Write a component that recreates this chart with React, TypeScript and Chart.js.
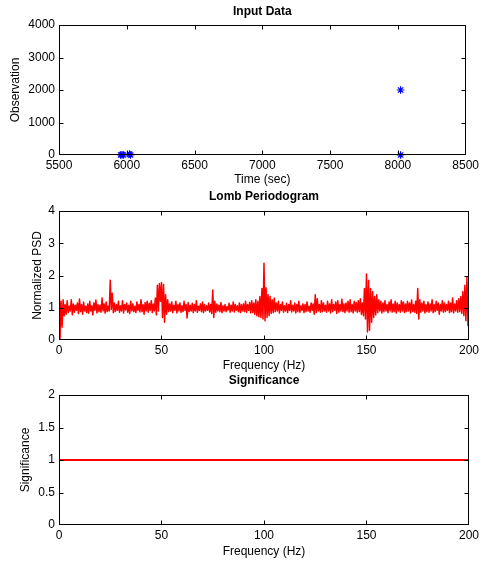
import React, { useEffect, useRef } from "react";
import { Chart, registerables } from "chart.js";

Chart.register(...registerables);

// ---------- DATA ----------
const INPUT_TIMES = [5955, 5965, 5975, 6020, 6028, 8020, 8020];
const INPUT_OBS = [0, 10, 0, 30, 0, 2000, 0];

const TIME_TICKS = [5500, 6000, 6500, 7000, 7500, 8000, 8500];
const OBS_TICKS = [0, 1000, 2000, 3000, 4000];

const FREQ_START = 0;
const FREQ_STEP = 0.5; // Hz between periodogram samples
const PSD_VALUES = [
  2.15, 0.05, 1.2, 0.4, 1.25, 0.75, 1.1, 0.8, 1.22, 0.85, 1.05, 0.9, 1.25, 0.78, 1.12, 0.86, 1.08, 0.92, 1.15, 0.82,
  1.27, 0.88, 1.1, 0.8, 1.18, 0.9, 1.05, 0.85, 1.12, 0.83, 1.2, 0.9, 1.06, 0.78, 1.15, 0.92, 1.24, 0.84, 1.1, 0.88,
  1.08, 0.86, 1.3, 0.9, 1.12, 0.83, 1.18, 0.88, 1.05, 0.9, 1.85, 0.95, 1.45, 0.85, 1.15, 0.88, 1.1, 0.92, 1.2, 0.86,
  1.06, 0.9, 1.22, 0.84, 1.1, 0.93, 1.15, 0.86, 1.08, 0.82, 1.2, 0.9, 1.12, 0.88, 1.05, 0.85, 1.18, 0.92, 1.1, 0.87,
  1.25, 0.88, 1.1, 0.8, 1.16, 0.9, 1.2, 0.86, 1.14, 0.92, 1.22, 0.85, 1.12, 0.9, 1.3, 0.78, 1.7, 0.9, 1.75, 1.2,
  1.78, 0.7, 1.72, 0.55, 1.4, 0.8, 1.25, 0.88, 1.12, 0.9, 1.18, 0.85, 1.08, 0.92, 1.2, 0.84, 1.1, 0.9, 1.15, 0.86,
  1.06, 0.88, 1.2, 0.92, 1.1, 0.68, 1.16, 0.88, 1.08, 0.9, 1.14, 0.85, 1.1, 0.9, 1.22, 0.86, 1.05, 0.92, 1.12, 0.88,
  1.18, 0.85, 1.1, 0.9, 1.06, 0.92, 1.15, 0.87, 1.1, 0.82, 1.55, 0.7, 1.2, 0.86, 1.12, 0.9, 1.08, 0.88, 1.16, 0.85,
  1.06, 0.9, 1.1, 0.88, 1.04, 0.93, 1.14, 0.86, 1.08, 0.9, 1.18, 0.87, 1.1, 0.92, 1.06, 0.88, 1.15, 0.85, 1.1, 0.9,
  1.12, 0.88, 1.2, 0.86, 1.1, 0.92, 1.16, 0.84, 1.22, 0.85, 1.15, 0.8, 1.25, 0.75, 1.2, 0.72, 1.35, 0.7, 1.6, 0.65,
  2.38, 0.6, 1.62, 0.7, 1.4, 0.75, 1.35, 0.82, 1.25, 0.85, 1.3, 0.88, 1.15, 0.9, 1.2, 0.84, 1.1, 0.92, 1.18, 0.86,
  1.06, 0.9, 1.14, 0.85, 1.1, 0.92, 1.22, 0.87, 1.08, 0.9, 1.15, 0.84, 1.1, 0.88, 1.2, 0.86, 1.06, 0.92, 1.12, 0.85,
  1.1, 0.88, 1.18, 0.9, 1.05, 0.86, 1.15, 0.92, 1.12, 0.8, 1.4, 0.85, 1.28, 0.9, 1.1, 0.86, 1.22, 0.88, 1.15, 0.9,
  1.08, 0.86, 1.2, 0.9, 1.12, 0.84, 1.25, 0.88, 1.1, 0.92, 1.18, 0.82, 1.22, 0.86, 1.1, 0.9, 1.26, 0.88, 1.12, 0.85,
  1.15, 0.9, 1.2, 0.86, 1.25, 0.88, 1.1, 0.84, 1.2, 0.9, 1.16, 0.86, 1.22, 0.88, 1.28, 0.8, 1.15, 0.75, 1.6, 0.65,
  2.05, 0.25, 1.85, 0.3, 1.6, 0.55, 1.5, 0.7, 1.35, 0.78, 1.4, 0.85, 1.25, 0.9, 1.2, 0.84, 1.15, 0.88, 1.22, 0.9,
  1.1, 0.85, 1.18, 0.9, 1.25, 0.86, 1.12, 0.88, 1.2, 0.84, 1.15, 0.9, 1.1, 0.86, 1.22, 0.9, 1.18, 0.85, 1.12, 0.88,
  1.2, 0.9, 1.15, 0.84, 1.24, 0.88, 1.1, 0.86, 1.2, 0.82, 1.6, 0.65, 1.25, 0.86, 1.15, 0.9, 1.2, 0.84, 1.1, 0.88,
  1.18, 0.86, 1.12, 0.9, 1.25, 0.85, 1.1, 0.88, 1.2, 0.92, 1.15, 0.8, 1.1, 0.9, 1.22, 0.86, 1.15, 0.88, 1.1, 0.92,
  1.2, 0.85, 1.15, 0.88, 1.3, 0.84, 1.12, 0.9, 1.22, 0.86, 1.28, 0.88, 1.35, 0.82, 1.5, 0.75, 1.7, 0.6, 1.95, 0.45,
  2.0,
];

const FREQ_TICKS = [0, 50, 100, 150, 200];
const PSD_TICKS = [0, 1, 2, 3, 4];

const SIG_FREQS = [0, 200];
const SIG_VALUES = [1, 1];
const SIG_TICKS = [0, 0.5, 1, 1.5, 2];

// ---------- STYLE ----------
const FONT = "'Liberation Sans', Arial, Helvetica, sans-serif";
Chart.defaults.font.family = FONT;
Chart.defaults.font.size = 12;
Chart.defaults.color = "#000";

const matlabPlugin = {
  id: "matlabBox",
  afterDraw(chart: any, _args: any, opts: any) {
    const { ctx, chartArea: a } = chart;
    const xs = chart.scales.x;
    const ys = chart.scales.y;
    const L = Math.round(a.left) + 0.5;
    const R = Math.round(a.right) - 0.5;
    const T = Math.round(a.top) + 0.5;
    const B = Math.round(a.bottom) - 0.5;
    const tl = 4;
    const clamp = (v: number, lo: number, hi: number) => Math.min(Math.max(v, lo), hi);
    ctx.save();
    ctx.strokeStyle = "#000";
    ctx.lineWidth = 1;
    ctx.lineCap = "butt";
    ctx.beginPath();
    for (const t of xs.ticks) {
      const px = clamp(Math.round(xs.getPixelForValue(t.value)) + 0.5, L, R);
      ctx.moveTo(px, B);
      ctx.lineTo(px, B - tl);
      ctx.moveTo(px, T);
      ctx.lineTo(px, T + tl);
    }
    for (const t of ys.ticks) {
      const py = clamp(Math.round(ys.getPixelForValue(t.value)) + 0.5, T, B);
      ctx.moveTo(L, py);
      ctx.lineTo(L + tl, py);
      ctx.moveTo(R, py);
      ctx.lineTo(R - tl, py);
    }
    ctx.stroke();
    ctx.strokeRect(L, T, R - L, B - T);
    if (opts && opts.title) {
      ctx.fillStyle = "#000";
      ctx.font = `bold 12px ${FONT}`;
      ctx.textAlign = "center";
      ctx.textBaseline = "middle";
      ctx.fillText(opts.title, (a.left + a.right) / 2, a.top - (opts.titleGap ?? 13));
    }
    ctx.restore();
  },
};

const plainLabel = (v: any) => String(v);

function makeScales(
  xMin: number,
  xMax: number,
  xTicks: number[],
  xTitle: string,
  xAxisH: number,
  xTitlePad: number,
  yMin: number,
  yMax: number,
  yTicks: number[],
  yTitle: string,
  yTitlePad: number
) {
  return {
    x: {
      type: "linear",
      min: xMin,
      max: xMax,
      grid: { display: false, drawTicks: false },
      border: { display: false },
      afterBuildTicks: (s: any) => {
        s.ticks = xTicks.map((v) => ({ value: v }));
      },
      afterFit: (s: any) => {
        s.height = xAxisH;
      },
      ticks: { autoSkip: false, maxRotation: 0, padding: 3, color: "#000", font: { size: 12 }, callback: plainLabel },
      title: { display: true, text: xTitle, padding: xTitlePad, color: "#000", font: { size: 12 } },
    },
    y: {
      type: "linear",
      min: yMin,
      max: yMax,
      grid: { display: false, drawTicks: false },
      border: { display: false },
      afterBuildTicks: (s: any) => {
        s.ticks = yTicks.map((v) => ({ value: v }));
      },
      afterFit: (s: any) => {
        s.width = 59;
      },
      ticks: { autoSkip: false, padding: 4, color: "#000", font: { size: 12 }, callback: plainLabel },
      title: { display: true, text: yTitle, padding: yTitlePad, color: "#000", font: { size: 12 } },
    },
  };
}

function useChart(ref: React.RefObject<HTMLCanvasElement | null>, build: () => any) {
  useEffect(() => {
    if (!ref.current) return;
    const chart = new Chart(ref.current, build());
    return () => chart.destroy();
  }, []);
}

export default function App() {
  const c1 = useRef<HTMLCanvasElement>(null);
  const c2 = useRef<HTMLCanvasElement>(null);
  const c3 = useRef<HTMLCanvasElement>(null);

  useChart(c1, () => ({
    type: "scatter",
    data: {
      datasets: [
        {
          data: INPUT_TIMES.map((t, i) => ({ x: t, y: INPUT_OBS[i] })),
          pointStyle: "star",
          pointRadius: 3.8,
          pointBorderWidth: 1.2,
          borderColor: "#0000ff",
          backgroundColor: "#0000ff",
          clip: false,
        },
      ],
    },
    options: {
      animation: false,
      responsive: false,
      devicePixelRatio: 1,
      layout: { padding: { left: 0, right: 13, top: 25, bottom: 0 } },
      plugins: { legend: { display: false }, tooltip: { enabled: false }, matlabBox: { title: "Input Data", titleGap: 13 } },
      scales: makeScales(5500, 8500, TIME_TICKS, "Time (sec)", 35, 3, 0, 4000, OBS_TICKS, "Observation", 8),
    },
    plugins: [matlabPlugin],
  }));

  useChart(c2, () => ({
    type: "line",
    data: {
      datasets: [
        {
          data: PSD_VALUES.map((v, i) => ({ x: FREQ_START + i * FREQ_STEP, y: v })),
          borderColor: "#ff0000",
          borderWidth: 1.5,
          borderJoinStyle: "round",
          pointRadius: 0,
          tension: 0,
          fill: false,
        },
      ],
    },
    options: {
      animation: false,
      responsive: false,
      devicePixelRatio: 1,
      layout: { padding: { left: 0, right: 13, top: 21, bottom: 0 } },
      plugins: { legend: { display: false }, tooltip: { enabled: false }, matlabBox: { title: "Lomb Periodogram", titleGap: 14 } },
      scales: makeScales(0, 200, FREQ_TICKS, "Frequency (Hz)", 35, 2, 0, 4, PSD_TICKS, "Normalized PSD", 30),
    },
    plugins: [matlabPlugin],
  }));

  useChart(c3, () => ({
    type: "line",
    data: {
      datasets: [
        {
          data: SIG_FREQS.map((f, i) => ({ x: f, y: SIG_VALUES[i] })),
          borderColor: "#ff0000",
          borderWidth: 2,
          pointRadius: 0,
          tension: 0,
          fill: false,
        },
      ],
    },
    options: {
      animation: false,
      responsive: false,
      devicePixelRatio: 1,
      layout: { padding: { left: 0, right: 13, top: 20, bottom: 0 } },
      plugins: { legend: { display: false }, tooltip: { enabled: false }, matlabBox: { title: "Significance", titleGap: 14 } },
      scales: makeScales(0, 200, FREQ_TICKS, "Frequency (Hz)", 37, 3, 0, 2, SIG_TICKS, "Significance", 18),
    },
    plugins: [matlabPlugin],
  }));

  return (
    <div style={{ position: "fixed", left: 0, top: 0, width: 482, height: 562, background: "#fff" }}>
      <canvas ref={c1} width={482} height={190} style={{ position: "absolute", left: 0, top: 0 }} />
      <canvas ref={c2} width={482} height={185} style={{ position: "absolute", left: 0, top: 190 }} />
      <canvas ref={c3} width={482} height={187} style={{ position: "absolute", left: 0, top: 375 }} />
    </div>
  );
}
